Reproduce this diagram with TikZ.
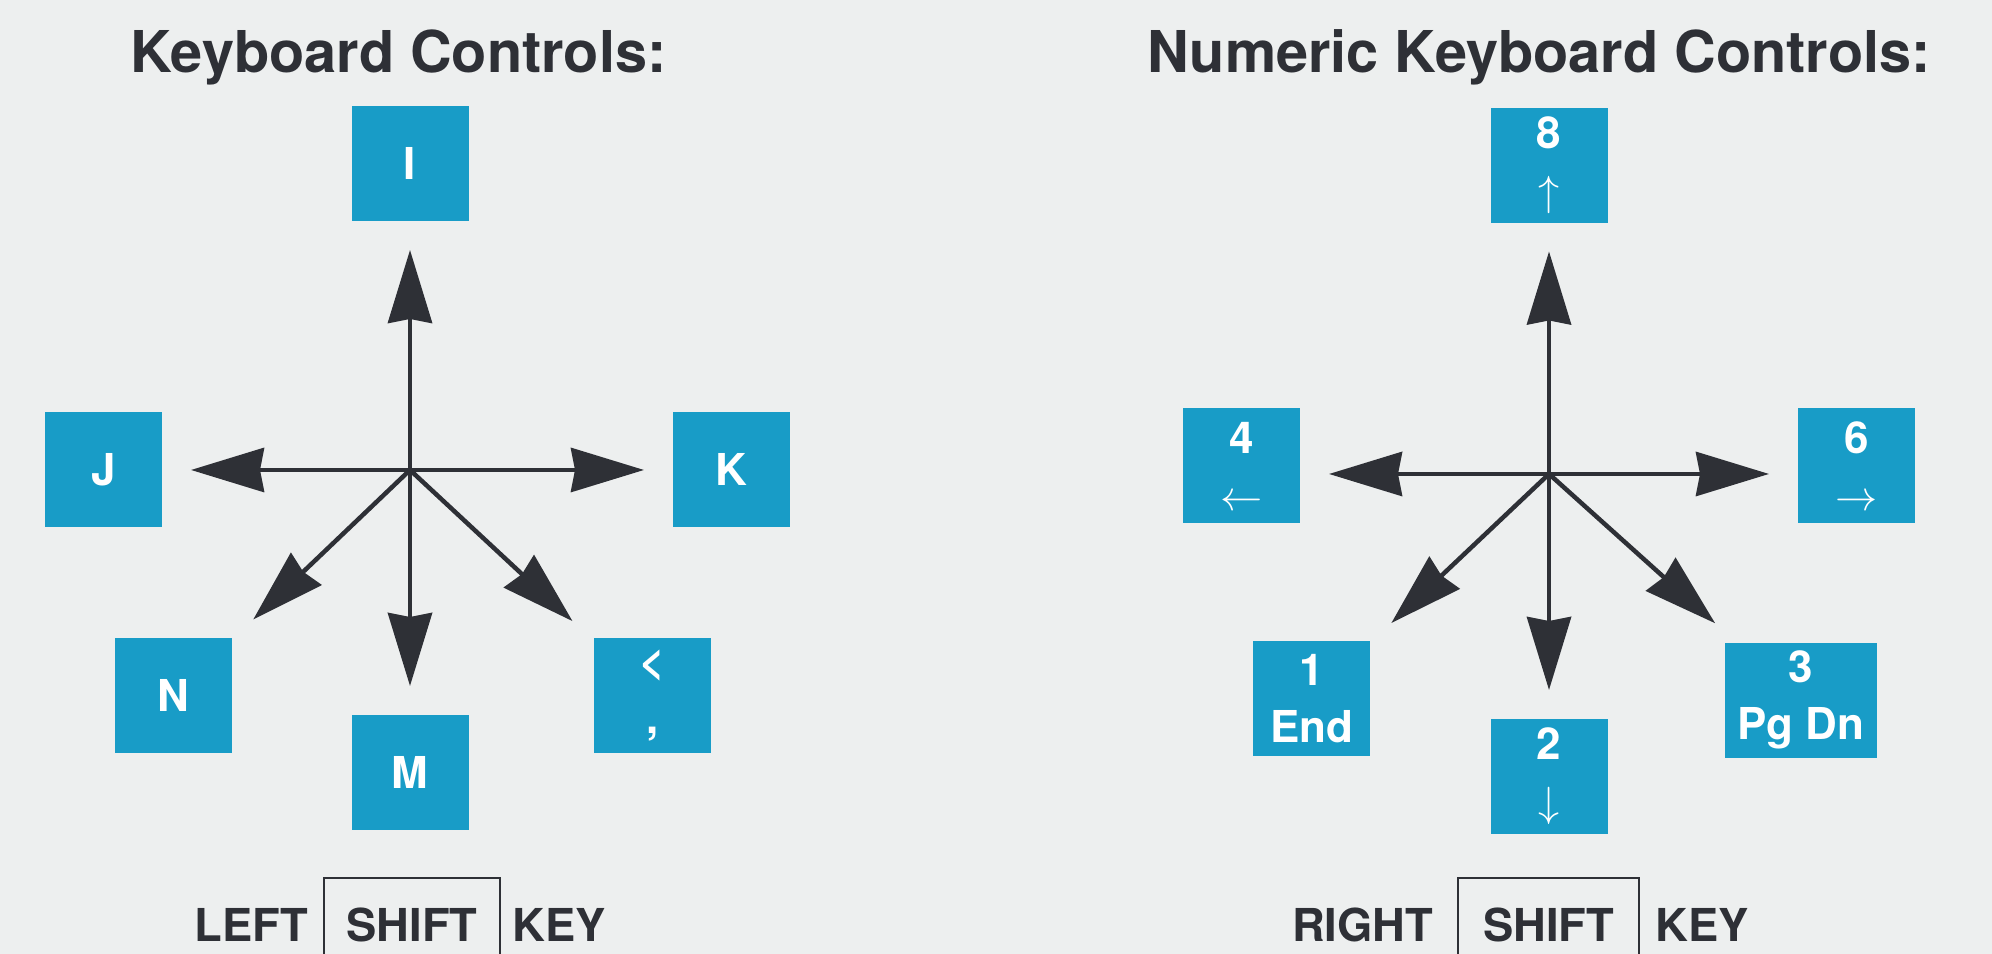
\documentclass[tikz,border=0pt]{standalone}
\usepackage{fontspec}
\setmainfont{TeX Gyre Heros}
\usepackage{tikz}
\usetikzlibrary{positioning,arrows.meta}

\definecolor{paper}{RGB}{237,239,239}
\definecolor{keyblue}{RGB}{24,156,199}
\definecolor{ink}{RGB}{46,48,54}

\tikzset{
  keybox/.style={fill=keyblue, text=white, minimum width=1.17cm, minimum height=1.15cm,
    inner sep=0pt, align=center, font=\bfseries\fontsize{12.5pt}{16.2pt}\selectfont},
  heading/.style={anchor=base west, inner sep=0pt, text=ink,
    font=\bfseries\fontsize{16.4pt}{20pt}\selectfont},
  keycaption/.style={inner sep=0pt, text=ink, font=\bfseries\fontsize{12.9pt}{15pt}\selectfont},
  shiftbox/.style={keycaption, draw=ink, line width=0.6pt, text height=0.64cm, text depth=0.35cm},
  dirarrow/.style={draw=ink, line width=0.045cm, shorten >=0.28cm,
    -{Stealth[length=0.73cm, width=0.44cm, inset=0.04cm]}}
}

\begin{document}
\begin{tikzpicture}
\useasboundingbox (0,0) rectangle (19.92,9.54);
\fill[paper] (0,0) rectangle (19.92,9.54);

%% KEYBOARD CONTROLS
\node[heading](title_kb) at (1.30,8.81){Keyboard Controls:};
\coordinate (mid_kb) at (4.10,4.84);

\node[keybox, above=2.48cm of mid_kb](key_I){I};
\node[keybox, left=2.47cm of mid_kb](key_J){J};
\node[keybox, right=2.62cm of mid_kb](key_K){K};
\node[keybox, below=2.44cm of mid_kb](key_M){M};
\node[keybox, below left=1.67cm and 1.77cm of mid_kb](key_N){N};
\node[keybox, below right=1.67cm and 1.83cm of mid_kb](key_comma){<\\,};

\draw[dirarrow] (mid_kb) -- (key_I);
\draw[dirarrow] (mid_kb) -- (key_J);
\draw[dirarrow] (mid_kb) -- (key_K);
\draw[dirarrow] (mid_kb) -- (key_M);
\draw[dirarrow] (mid_kb) -- (key_N);
\draw[dirarrow] (mid_kb) -- (key_comma);

% left shift key
\node[shiftbox, anchor=base, minimum width=1.76cm](shift_l) at (4.12,0.12){SHIFT};
\node[keycaption, base left=0.14cm of shift_l](side_l){LEFT};
\node[keycaption, base right=0.11cm of shift_l](word_l){KEY};

%% NUMERIC KEYBOARD CONTROLS
\node[heading](title_num) at (11.47,8.81){Numeric Keyboard Controls:};
\coordinate (mid_num) at (15.49,4.80);

\node[keybox, above=2.505cm of mid_num](key_8){8\\$\uparrow$};
\node[keybox, left=2.48cm of mid_num, yshift=0.08cm](key_4){4\\$\leftarrow$};
\node[keybox, right=2.48cm of mid_num, yshift=0.08cm](key_6){6\\$\rightarrow$};
\node[keybox, below=2.44cm of mid_num](key_2){2\\$\downarrow$};
\node[keybox, below left=1.66cm and 1.78cm of mid_num](key_1){1\\End};
\node[keybox, minimum width=1.52cm, below right=1.68cm and 1.75cm of mid_num](key_3){3\\Pg Dn};

\draw[dirarrow] (mid_num) -- (key_8);
\draw[dirarrow] (mid_num) -- (mid_num -| key_4.east);
\draw[dirarrow] (mid_num) -- (mid_num -| key_6.west);
\draw[dirarrow] (mid_num) -- (key_2);
\draw[dirarrow] (mid_num) -- (key_1);
\draw[dirarrow] (mid_num) -- (key_3);

% right shift key
\node[shiftbox, anchor=base, minimum width=1.81cm](shift_r) at (15.485,0.12){SHIFT};
\node[keycaption, base left=0.23cm of shift_r](side_r){RIGHT};
\node[keycaption, base right=0.15cm of shift_r](word_r){KEY};

\end{tikzpicture}
\end{document}
